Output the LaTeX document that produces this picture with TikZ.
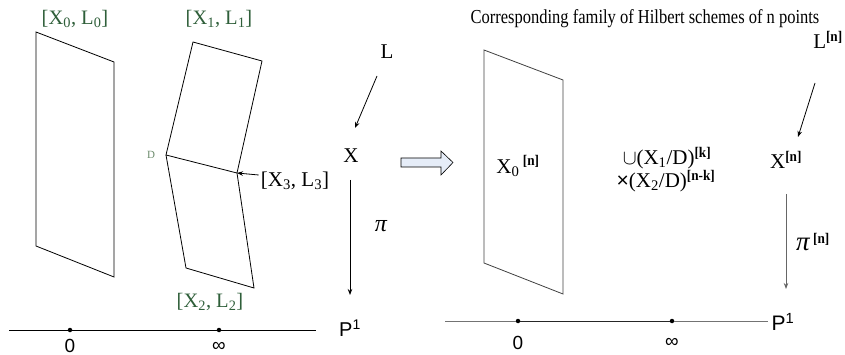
\documentclass[tikz,border=0pt]{standalone}
\usepackage{fontspec}
\setmainfont{Liberation Serif}
\newfontfamily\sansf{Liberation Sans}
\usetikzlibrary{arrows.meta}
\definecolor{dgreen}{HTML}{2F5F3A}
\definecolor{dlabel}{HTML}{6B8A6B}
\definecolor{afill}{HTML}{E6EDF8}
\newcommand{\sub}[1]{\textsubscript{#1}}
\newcommand{\sps}[1]{\textsuperscript{\bfseries\scalebox{0.9}[1]{#1}}}
\begin{document}
\begin{tikzpicture}[x=1pt,y=-1pt,
  txt/.style={inner sep=0pt,font=\fontsize{21}{23}\selectfont},
  gtxt/.style={txt,font=\fontsize{20.5}{23}\selectfont,text=dgreen},
  stxt/.style={inner sep=0pt,font=\sansf\fontsize{19}{21}\selectfont},
  outl/.style={draw=black,line width=0.8pt,line join=miter},
  conn/.style={draw=black,line width=0.8pt,-{Stealth[length=6pt,width=4.5pt]}},
  gconn/.style={conn,draw=black!60,-{Stealth[length=6pt,width=4.5pt,fill=black!60]}},
  dot/.style={circle,fill=black,inner sep=0pt,minimum size=4.5pt}]
\useasboundingbox (0,0) rectangle (845,355);

% ---------------- left: family of surfaces
\draw[outl] (36,32) -- (114,62) -- (114,277) -- (36,246) -- cycle;
\coordinate (D) at (166,155);
\coordinate (K) at (237,173);
\draw[outl] (D) -- (193,42) -- (262,61) -- (K) -- cycle;
\draw[outl] (D) -- (186,268) -- (254,288) -- (K);

\node[gtxt] (l0) at (75,19) {[X\sub{0}, L\sub{0}]};
\node[gtxt] (l1) at (219,19) {[X\sub{1}, L\sub{1}]};
\node[gtxt] (l2) at (210,302) {[X\sub{2}, L\sub{2}]};
\node[inner sep=0pt,text=dlabel,font=\fontsize{11}{12}\selectfont] (dl) at (151,155) {D};
\node[txt] (l3) at (295,181) {[X\sub{3}, L\sub{3}]};
\draw[conn] (l3.west) ++(-2,-6) coordinate (l3a) -- (K);

\node[txt] (L) at (387,52) {L};
\node[txt] (X) at (351,156) {X};
\coordinate (La) at (377,76);
\coordinate (Xa) at (355,128);
\draw[conn] (La) -- (Xa);
\coordinate (pa) at (350,180);
\coordinate (pb) at (350,295);
\draw[conn] (pa) -- (pb);
\node[inner sep=0pt,font=\fontsize{24}{26}\selectfont\itshape] (pi) at (381,226) {π};

\node[stxt,font=\sansf\fontsize{20}{22}\selectfont] (P1) at (350,328) {P\textsuperscript{1}};
\coordinate (la) at (9,330);
\coordinate (lb) at (316,330);
\draw[line width=0.8pt] (la) -- (lb);
\node[dot] (z0) at (70,330) {};
\node[dot] (zi) at (219,330) {};
\node[stxt] (t0) at (70,346) {0};
\node[stxt] (ti) at (219,347) {∞};

% ---------------- hollow arrow
\draw[line width=0.6pt,fill=afill] (401,158) -- (441,158) -- (441,151) -- (453,162.5) -- (441,175) -- (441,167) -- (401,167) -- cycle;

% ---------------- right: Hilbert schemes
\node[inner sep=0pt,font=\fontsize{16.5}{18}\selectfont] (title) at (645,19) {\scalebox{1}[1.2]{Corresponding family of Hilbert schemes of n points}};
\draw[outl,draw=black!75] (484,50) -- (563,80) -- (563,294) -- (484,263) -- cycle;
\node[txt] (X0n) at (518,166) {X\sub{0}\,\sps{[n]}};
\node[txt] (u1) at (667,158) {$\cup$(X\sub{1}/D)\sps{[k]}};
\node[txt] (u2) at (666,181) {{\sansf ×}(X\sub{2}/D)\sps{[n-k]}};
\node[txt] (Ln) at (828,40) {L\sps{[n]}};
\node[txt] (Xn) at (786,160) {X\sps{[n]}};
\coordinate (Lna) at (815,83);
\coordinate (Xna) at (798,137);
\draw[conn] (Lna) -- (Xna);
\coordinate (pna) at (786,194);
\coordinate (pnb) at (786,289);
\draw[gconn] (pna) -- (pnb);
\node[txt] (pin) at (813,242) {{\fontsize{27}{28}\selectfont\itshape π}\,\sps{[n]}};

\node[stxt,font=\sansf\fontsize{21}{23}\selectfont] (P1r) at (783,322) {P\textsuperscript{1}};
\coordinate (ra) at (445,321);
\coordinate (rb) at (768,321);
\node[dot] (r0) at (518,321) {};
\node[dot] (ri) at (672,321) {};
\draw[line width=0.8pt,black!55] (ra) -- (r0);
\draw[line width=0.8pt,black!55] (ri) -- (rb);
\draw[line width=1pt,black!85] (r0) -- (ri);
\node[stxt] (r0t) at (518,343) {0};
\node[stxt] (rit) at (672,343) {∞};
\end{tikzpicture}
\end{document}
